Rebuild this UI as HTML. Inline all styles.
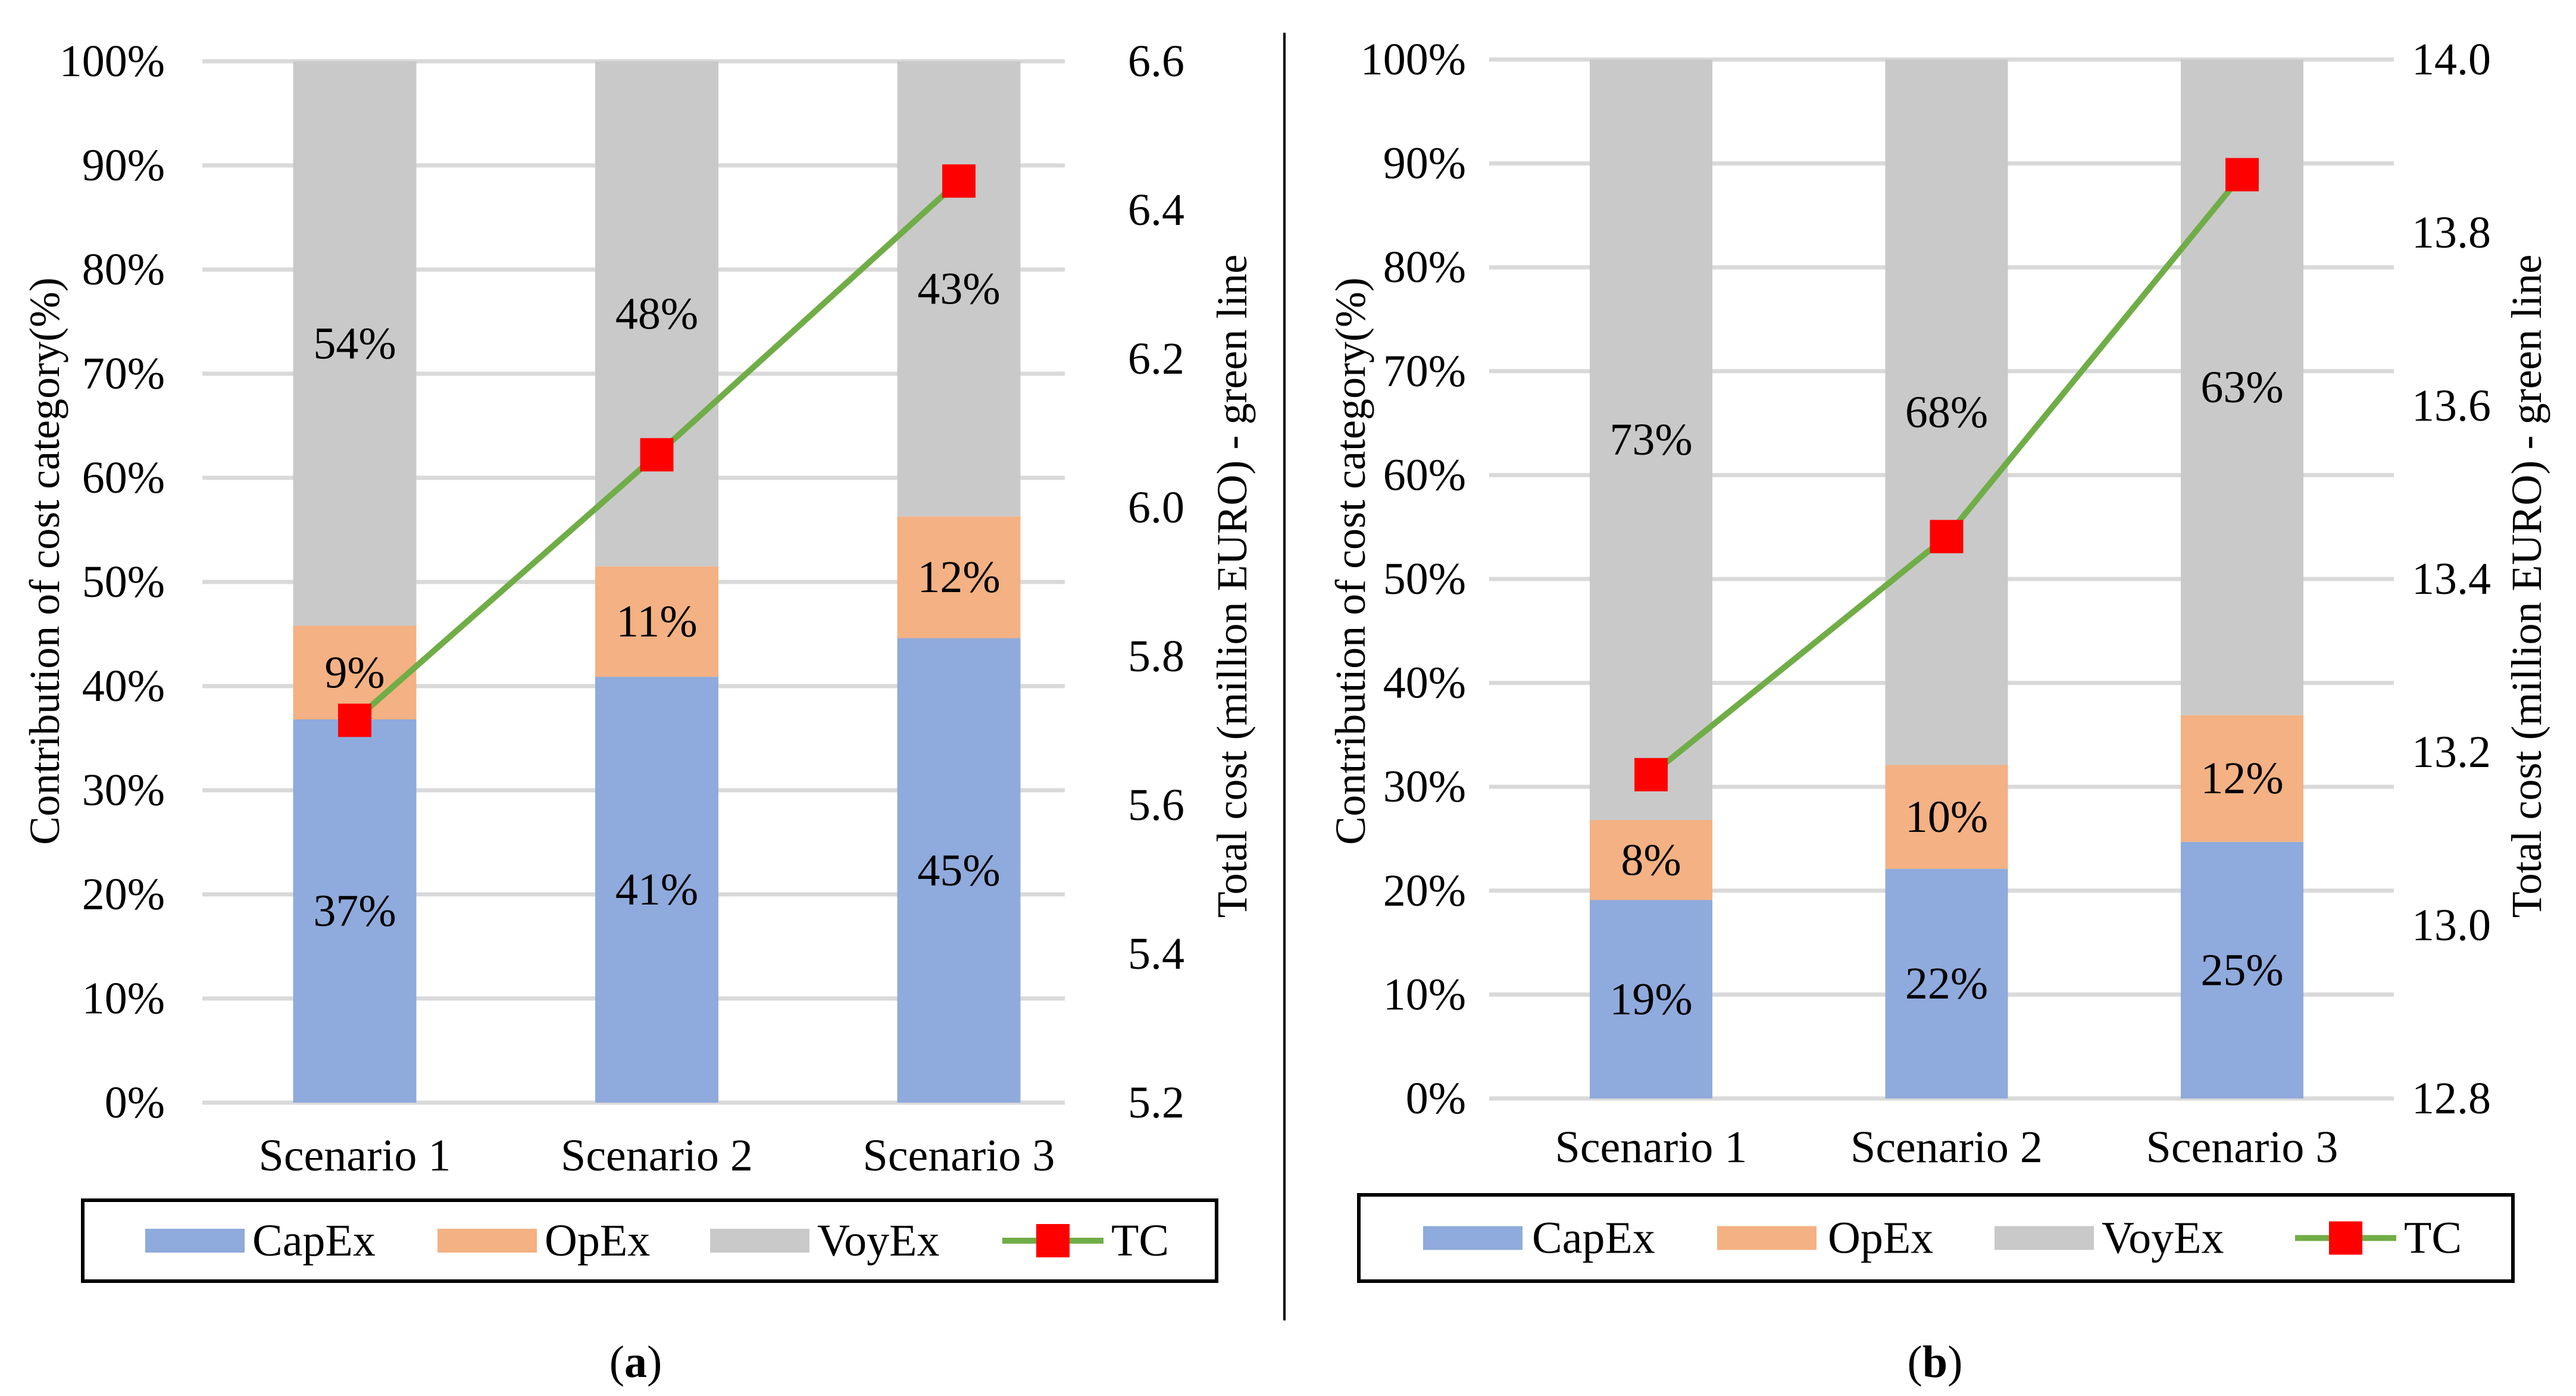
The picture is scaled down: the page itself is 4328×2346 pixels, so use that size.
<!DOCTYPE html>
<html><head><meta charset="utf-8"><style>
html,body{margin:0;padding:0;background:#fff;}
svg{display:block;font-family:"Liberation Serif",serif;}
svg text{font-family:"Liberation Serif",serif;}
</style></head><body>
<svg id="fig" width="4328" height="2346" viewBox="0 0 4328 2346" xmlns="http://www.w3.org/2000/svg" font-family="Liberation Serif, serif">
<line x1="2158" y1="55" x2="2158" y2="2219" stroke="#000" stroke-width="4"/>
</svg>
<script>
const categories = ["Scenario 1","Scenario 2","Scenario 3"];
const capexA = [36.8, 40.9, 44.6];
const opexA = [9.0, 10.6, 11.7];
const capexLabelsA = ["37%","41%","45%"];
const opexLabelsA = ["9%","11%","12%"];
const voyLabelsA = ["54%","48%","43%"];
const tcA = [5.714, 6.071, 6.439];
const rightTicksA = ["5.2","5.4","5.6","5.8","6.0","6.2","6.4","6.6"];
const capexB = [19.1, 22.1, 24.7];
const opexB = [7.7, 10.0, 12.2];
const capexLabelsB = ["19%","22%","25%"];
const opexLabelsB = ["8%","10%","12%"];
const voyLabelsB = ["73%","68%","63%"];
const tcB = [13.174, 13.449, 13.867];
const rightTicksB = ["12.8","13.0","13.2","13.4","13.6","13.8","14.0"];
const leftTicks = ["0%","10%","20%","30%","40%","50%","60%","70%","80%","90%","100%"];

const NS="http://www.w3.org/2000/svg";
const svg=document.getElementById('fig');
const FF='"Liberation Serif", serif';
function mk(tag,attrs,parent,text){const e=document.createElementNS(NS,tag);for(const k in attrs)e.setAttribute(k,attrs[k]);if(tag==='text'){e.setAttribute('font-family',FF);e.style.fontFamily=FF;}if(text!==undefined)e.textContent=text;(parent||svg).appendChild(e);return e;}

function panel(cfg){
  const g=mk('g',{});
  
  
  const y=v=>cfg.y0-(v/100)*(cfg.y0-cfg.y100);
  const rmin=parseFloat(cfg.rticks[0]), rmax=parseFloat(cfg.rticks[cfg.rticks.length-1]);
  const yr=v=>cfg.y0-(v-rmin)/(rmax-rmin)*(cfg.y0-cfg.y100);
  const x=i=>cfg.cx0+i*cfg.step;
  leftTicks.forEach((t,i)=>{
    const v=i*10;
    const gl=mk('line',{x1:cfg.gx0,x2:cfg.gx1,y1:y(v),y2:y(v),stroke:'#D9D9D9','stroke-width':7},g);
    
    
    const tl=mk('text',{x:cfg.lx,y:y(v),'text-anchor':'end','dominant-baseline':'central','font-size':76},g,t);
    
    
  });
  cfg.rticks.forEach(t=>{
    const tr=mk('text',{x:cfg.rx,y:yr(parseFloat(t)),'text-anchor':'start','dominant-baseline':'central','font-size':76},g,t);
    
    
  });
  categories.forEach((c,i)=>{
    const cx=x(i), w=cfg.bw;
    const a=cfg.capex[i], o=cfg.opex[i];
    const b1=mk('rect',{x:cx-w/2,y:y(a),width:w,height:y(0)-y(a),fill:'#8FAADC'},g);
    
    
    const b2=mk('rect',{x:cx-w/2,y:y(a+o),width:w,height:y(a)-y(a+o),fill:'#F4B183'},g);
    
    
    const b3=mk('rect',{x:cx-w/2,y:y(100),width:w,height:y(a+o)-y(100),fill:'#C9C9C9'},g);
    
    
    [[a/2,cfg.capL[i]],[a+o/2,cfg.opL[i]],[(a+o+100)/2,cfg.voyL[i]]].forEach(p=>{
      const dl=mk('text',{x:cx,y:y(p[0]),'text-anchor':'middle','dominant-baseline':'central','font-size':76},g,p[1]);
      
      
    });
    const cl=mk('text',{x:cx,y:cfg.caty,'text-anchor':'middle','dominant-baseline':'central','font-size':76},g,c);
    
    
  });
  const pts=cfg.tc.map((v,i)=>x(i)+','+yr(v)).join(' ');
  const ln=mk('polyline',{points:pts,fill:'none',stroke:'#70AD47','stroke-width':10},g);
  
  
  cfg.tc.forEach((v,i)=>{
    const m=mk('rect',{x:x(i)-28,y:yr(v)-28,width:56,height:56,fill:'#FF0000'},g);
    
    
  });
  const yt=mk('text',{x:cfg.ytx,y:cfg.yty,'text-anchor':'middle','dominant-baseline':'central','font-size':72,transform:`rotate(-90 ${cfg.ytx} ${cfg.yty})`},g,'Contribution of cost category(%)');
  
  
  const rt=mk('text',{x:cfg.rtx,y:cfg.rty,'text-anchor':'middle','dominant-baseline':'central','font-size':72,transform:`rotate(-90 ${cfg.rtx} ${cfg.rty})`},g,'Total cost (million EURO) - green line');
  
  
  const L=cfg.leg;
  const lg=mk('g',{},g);
  
  
  mk('rect',{x:L.x,y:L.y,width:L.w,height:L.h,fill:'none',stroke:'#000','stroke-width':6},lg);
  const cy=L.y+L.h/2;
  [['CapEx','#8FAADC',L.s[0],L.t[0]],['OpEx','#F4B183',L.s[1],L.t[1]],['VoyEx','#C9C9C9',L.s[2],L.t[2]]].forEach(it=>{
    const e=mk('g',{},lg);
    
    
    mk('rect',{x:it[2],y:cy-20,width:167,height:40,fill:it[1]},e);
    mk('text',{x:it[3],y:cy,'dominant-baseline':'central','font-size':76},e,it[0]);
  });
  const e=mk('g',{},lg);
  
  
  mk('line',{x1:L.s[3],x2:L.s[3]+170,y1:cy,y2:cy,stroke:'#70AD47','stroke-width':10},e);
  mk('rect',{x:L.s[3]+85-28,y:cy-28,width:56,height:56,fill:'#FF0000'},e);
  mk('text',{x:L.t[3],y:cy,'dominant-baseline':'central','font-size':76},e,'TC');
  const pl=mk('text',{x:cfg.plx,y:2289,'text-anchor':'middle','dominant-baseline':'central','font-size':76},g);
  
  
  mk('tspan',{},pl,'(');mk('tspan',{'font-weight':'bold'},pl,cfg.letter);mk('tspan',{},pl,')');
}

panel({name:'panel-a',y0:1853,y100:103,gx0:340,gx1:1789,cx0:596,step:507.5,bw:207,lx:277,rx:1895,
  capex:capexA,opex:opexA,capL:capexLabelsA,opL:opexLabelsA,voyL:voyLabelsA,tc:tcA,rticks:rightTicksA,
  caty:1942,ytx:75,yty:943,rtx:2070,rty:985,
  leg:{x:139,y:2017,w:1905,h:136,s:[244,735,1193,1684],t:[424,915,1373,1867]},plx:1068,letter:'a'});
panel({name:'panel-b',y0:1846,y100:100,gx0:2502,gx1:4022,cx0:2774,step:496.5,bw:206,lx:2463,rx:4052,
  capex:capexB,opex:opexB,capL:capexLabelsB,opL:opexLabelsB,voyL:voyLabelsB,tc:tcB,rticks:rightTicksB,
  caty:1928,ytx:2269,yty:943,rtx:4245,rty:985,
  leg:{x:2283,y:2008,w:1939,h:145,s:[2391,2885,3351,3856],t:[2574,3071,3531,4039]},plx:3251,letter:'b'});
</script>
</body></html>
